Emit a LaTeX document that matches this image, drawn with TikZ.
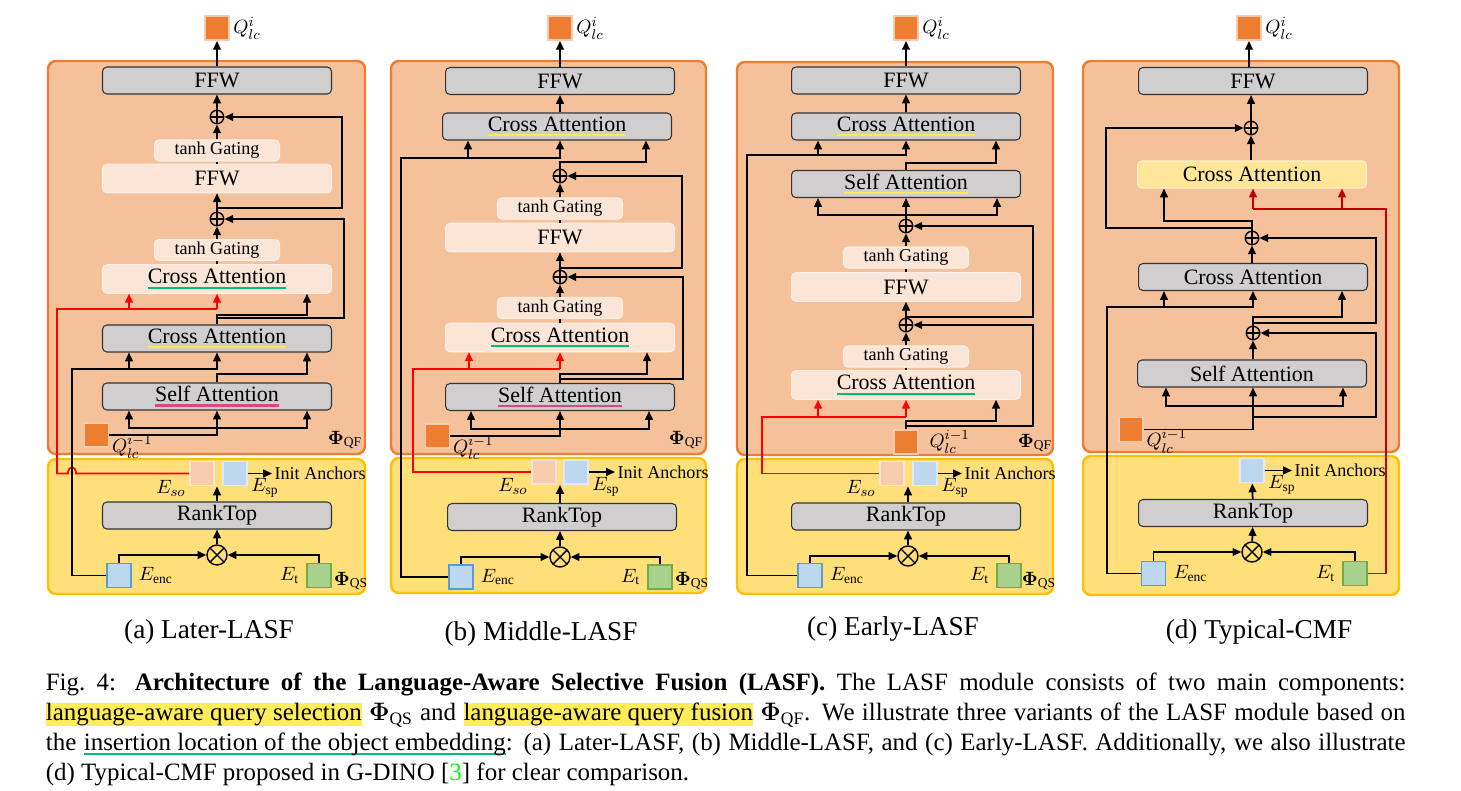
\documentclass[tikz,border=0pt]{standalone}
\usepackage{amsmath, amssymb, bm}
\usepackage{fontspec}
\setmainfont{Liberation Serif}
\usetikzlibrary{arrows.meta}
\definecolor{qforange}{RGB}{237,125,49}
\definecolor{qffill}{RGB}{245,193,155}
\definecolor{qsgold}{RGB}{255,192,0}
\definecolor{qsfill}{RGB}{255,223,122}
\definecolor{boxgray}{RGB}{208,206,206}
\definecolor{peach}{RGB}{251,229,214}
\definecolor{salmon}{RGB}{248,203,173}
\definecolor{skyfill}{RGB}{189,215,238}
\definecolor{skyline}{RGB}{91,155,213}
\definecolor{skylight}{RGB}{222,235,247}
\definecolor{leaffill}{RGB}{169,209,142}
\definecolor{leafline}{RGB}{112,173,71}
\definecolor{cayellow}{RGB}{255,230,153}
\definecolor{calight}{RGB}{255,242,204}
\definecolor{ulyellow}{RGB}{255,232,80}
\definecolor{ulgreen}{RGB}{0,190,120}
\definecolor{ulpink}{RGB}{225,70,120}
\definecolor{hlyellow}{RGB}{255,238,88}
\definecolor{darkred}{RGB}{192,0,0}

\newsavebox\ulbox
\newcommand{\ulined}[2]{\sbox\ulbox{#2}\rlap{\color{#1}\rule[-2.7pt]{\wd\ulbox}{1.2pt}}\usebox\ulbox}
\newcommand{\hlt}[1]{{\setlength{\fboxsep}{0pt}\colorbox{hlyellow}{\rule[-3pt]{0pt}{13pt}#1}}}

\begin{document}
\begin{tikzpicture}[x=0.02cm, y=-0.02cm, line width=1pt,
  every node/.style={align=center},
  >={Triangle[length=5pt,width=4.4pt]},
  qfpanel/.style={draw=qforange, fill=qffill, line width=1.4pt, rounded corners=4.5pt},
  qspanel/.style={draw=qsgold, fill=qsfill, line width=1.4pt, rounded corners=4.5pt},
  graybox/.style={draw=black!80, line width=0.6pt, fill=boxgray, rounded corners=2.5pt,
    minimum width=4.58cm, minimum height=0.54cm, inner sep=0pt, font=\fontsize{12.5}{14}\selectfont},
  lightbox/.style={graybox, draw=peach!60!white, fill=peach, minimum height=0.57cm},
  yellowbox/.style={graybox, draw=calight, fill=cayellow},
  gatebox/.style={fill=peach, draw=peach!60!white, line width=0.6pt, rounded corners=2.5pt,
    minimum width=2.5cm, minimum height=0.42cm, inner sep=0pt, font=\fontsize{10.3}{12}\selectfont},
  sq/.style={minimum size=0.48cm, inner sep=0pt, line width=1.1pt},
  qsq/.style={sq, fill=qforange, draw=salmon},
  sosq/.style={sq, fill=salmon, draw=peach},
  spsq/.style={sq, fill=skyfill, draw=skylight},
  encsq/.style={sq, fill=skyfill, draw=skyline},
  tsq/.style={sq, fill=leaffill, draw=leafline},
  oplus/.style={circle, draw, line width=0.8pt, minimum size=0.27cm, inner sep=0pt,
    path picture={\draw[line width=0.8pt] (path picture bounding box.north) -- (path picture bounding box.south)
      (path picture bounding box.west) -- (path picture bounding box.east);}},
  otimes/.style={circle, draw, line width=0.8pt, minimum size=0.4cm, inner sep=0pt,
    path picture={\draw[line width=0.8pt] (path picture bounding box.north west) -- (path picture bounding box.south east)
      (path picture bounding box.south west) -- (path picture bounding box.north east);}},
  lbl/.style={inner sep=1.5pt, font=\fontsize{11}{12}\selectfont},
  anchorlbl/.style={inner sep=1pt, anchor=west, font=\fontsize{10.3}{12}\selectfont},
  redline/.style={draw=red, line width=1pt}
]
\useasboundingbox (0,0) rectangle (1461,791);

% (a) Later-LASF
\begin{scope}[name prefix=a-]
\draw[qfpanel] (48,61) rectangle (365,454);
\draw[qspanel] (48,459) rectangle (365,594);
\node[qsq] (qout) at (217,28) {};
\node[lbl, anchor=west] at (qout.east) {$Q_{lc}^{i}$};
\node[graybox] (ffw) at (217,80.5) {FFW};
\node[oplus] (add1) at (217,117) {};
\node[gatebox] (gate1) at (217,150.5) {tanh Gating};
\node[lightbox] (ffwl) at (217,178.5) {FFW};
\node[oplus] (add2) at (217,219) {};
\node[gatebox] (gate2) at (217,250) {tanh Gating};
\node[lightbox] (cal) at (217,279) {\ulined{ulgreen}{Cross Attention}};
\node[graybox] (cag) at (217,338.5) {\ulined{ulyellow}{Cross Attention}};
\node[graybox] (sa) at (217,396.5) {\ulined{ulpink}{Self Attention}};
\node[qsq] (qin) at (96.5,435) {};
\node[lbl, anchor=north west, inner sep=1pt, yshift=1.5pt] at (qin.east) {$Q_{lc}^{i-1}$};
\node[lbl] at (345,440) {$\bm{\Phi}_{\mathrm{QF}}$};
\node[graybox] (rank) at (217,515.5) {RankTop};
\node[sosq] (eso) at (202,473.5) {};
\node[spsq] (esp) at (235,473.5) {};
\node[lbl, anchor=east, yshift=-1pt] at (eso.south west) {$E_{so}$};
\node[lbl, anchor=west, yshift=-1pt] at (esp.south east) {$E_{\mathrm{sp}}$};
\node[anchorlbl] (init) at (272,473.5) {Init Anchors};
\node[otimes] (mul) at (217,555) {};
\node[encsq] (eenc) at (119,575.5) {};
\node[tsq] (et) at (319,575.5) {};
\node[lbl, anchor=west] at ([xshift=2pt]eenc.east) {$E_{\mathrm{enc}}$};
\node[lbl, anchor=east] at ([xshift=-2pt]et.west) {$E_{\mathrm{t}}$};
\node[lbl] at (351,581) {$\bm{\Phi}_{\mathrm{QS}}$};
\coordinate (t1) at (217,208);
\coordinate (t2) at (217,318);
\coordinate (r1) at (129,309);
\coordinate (r2) at (217,309);
\coordinate (l1) at (129,369);
\coordinate (b1) at (129,428);
\coordinate (b2) at (307,428);
\draw[->] (ffw) -- (qout);
\draw[->] (add1) -- (ffw);
\draw[->] (gate1) -- (add1);
\draw (gate1) -- (ffwl);
\draw[->] (add2) -- (ffwl);
\draw[->] (gate2) -- (add2);
\draw (gate2) -- (cal);
\draw[->] (t1) -| (342,117) -- (add1);
\draw[->] (cag) |- (307,315) -- (307,0 |- cal.south);
\draw[->] (t2) -| (344,219) -- (add2);
\draw[redline] (eso) -- (76,473.5) .. controls (76,465) and (68,465) .. (68,473.5) -| (57,309) -- (r2);
\draw[redline, ->] (r1) -- (r1 |- cal.south);
\draw[redline, ->] (r2) -- (r2 |- cal.south);
\draw[->] (eenc) -| (72,369) -| (cag);
\draw[->] (l1) -- (l1 |- cag.south);
\draw[->] (sa) |- (307,374) -- (307,0 |- cag.south);
\draw[->] (qin) -| (sa);
\draw[<->] (b1 |- sa.south) -- (b1) -- (b2) -- (b2 |- sa.south);
\draw[->] (rank) -- (rank.north |- esp.south);
\draw[->] (esp) -- (init);
\draw[->] (mul) -- (rank);
\draw[->] (eenc) |- (mul);
\draw[->] (et) |- (mul);
\end{scope}

% (b) Middle-LASF
\begin{scope}[shift={(343,0)}, name prefix=b-]
\draw[qfpanel] (48,61) rectangle (363,454);
\draw[qspanel] (48,458) rectangle (363,593);
\node[qsq] (qout) at (217,28) {};
\node[lbl, anchor=west] at (qout.east) {$Q_{lc}^{i}$};
\node[graybox] (ffw) at (217,81) {FFW};
\node[graybox] (cag) at (214,126.5) {\ulined{ulyellow}{Cross Attention}};
\node[oplus] (add1) at (217,176) {};
\node[gatebox] (gate1) at (217,208.5) {tanh Gating};
\node[lightbox] (ffwl) at (217,237.5) {FFW};
\node[oplus] (add2) at (217,277) {};
\node[gatebox] (gate2) at (217,308) {tanh Gating};
\node[lightbox] (cal) at (217,337.5) {\ulined{ulgreen}{Cross Attention}};
\node[graybox] (sa) at (217,397) {\ulined{ulpink}{Self Attention}};
\node[qsq] (qin) at (94.5,436) {};
\node[lbl, anchor=north west, inner sep=1pt, yshift=1.5pt] at (qin.east) {$Q_{lc}^{i-1}$};
\node[lbl] at (343,440) {$\bm{\Phi}_{\mathrm{QF}}$};
\node[graybox] (rank) at (219,517) {RankTop};
\node[sosq] (eso) at (201,472) {};
\node[spsq] (esp) at (233,472) {};
\node[lbl, anchor=east, yshift=-1pt] at (eso.south west) {$E_{so}$};
\node[lbl, anchor=west, yshift=-1pt] at (esp.south east) {$E_{\mathrm{sp}}$};
\node[anchorlbl] (init) at (272,472) {Init Anchors};
\node[otimes] (mul) at (217,557) {};
\node[encsq] (eenc) at (118,577) {};
\node[tsq] (et) at (317,577) {};
\node[lbl, anchor=west] at ([xshift=2pt]eenc.east) {$E_{\mathrm{enc}}$};
\node[lbl, anchor=east] at ([xshift=-2pt]et.west) {$E_{\mathrm{t}}$};
\node[lbl] at (349,581) {$\bm{\Phi}_{\mathrm{QS}}$};
\coordinate (t1) at (217,268);
\coordinate (t2) at (217,379);
\coordinate (r1) at (126,369);
\coordinate (r2) at (217,369);
\coordinate (l1) at (125,158);
\coordinate (b1) at (128,429);
\coordinate (b2) at (306,429);
\draw[->] (ffw) -- (qout);
\draw[->] (217,0 |- cag.north) -- (ffw);
\draw[->] (eenc) -| (58,158) -| (217,0 |- cag.south);
\draw[->] (l1) -- (l1 |- cag.south);
\draw[->] (add1) |- (303,162) -- (303,0 |- cag.south);
\draw[->] (t1) -| (339,176) -- (add1);
\draw[->] (gate1) -- (add1);
\draw (gate1) -- (ffwl);
\draw[->] (add2) -- (ffwl);
\draw[->] (gate2) -- (add2);
\draw (gate2) -- (cal);
\draw[->] (sa) |- (304,374) -- (304,0 |- cal.south);
\draw[->] (t2) -| (340,277) -- (add2);
\draw[redline] (eso) -| (70,369) -- (r2);
\draw[redline, ->] (r1) -- (r1 |- cal.south);
\draw[redline, ->] (r2) -- (r2 |- cal.south);
\draw[->] (qin) -| (sa);
\draw[<->] (b1 |- sa.south) -- (b1) -- (b2) -- (b2 |- sa.south);
\draw[->] (217,0 |- rank.north) -- (217,0 |- esp.south);
\draw[->] (esp) -- (init);
\draw[->] (mul) -- (217,0 |- rank.south);
\draw[->] (eenc) |- (mul);
\draw[->] (et) |- (mul);
\end{scope}

% (c) Early-LASF
\begin{scope}[shift={(689,0)}, name prefix=c-]
\draw[qfpanel] (48,62) rectangle (364,455);
\draw[qspanel] (48,459) rectangle (364,594);
\node[qsq] (qout) at (217,28) {};
\node[lbl, anchor=west] at (qout.east) {$Q_{lc}^{i}$};
\node[graybox] (ffw) at (217,80.5) {FFW};
\node[graybox] (cag) at (217,126.5) {\ulined{ulyellow}{Cross Attention}};
\node[graybox] (sa) at (217,184) {\ulined{ulyellow}{Self Attention}};
\node[oplus] (add1) at (217,226) {};
\node[gatebox] (gate1) at (217,257.5) {tanh Gating};
\node[lightbox] (ffwl) at (217,287) {FFW};
\node[oplus] (add2) at (217,325) {};
\node[gatebox] (gate2) at (217,356.5) {tanh Gating};
\node[lightbox] (cal) at (217,385) {\ulined{ulgreen}{Cross Attention}};
\node[qsq] (qin) at (217,442) {};
\node[lbl, anchor=west, xshift=4pt] at (qin.east) {$Q_{lc}^{i-1}$};
\node[lbl] at (346,443) {$\bm{\Phi}_{\mathrm{QF}}$};
\node[graybox] (rank) at (217,516.5) {RankTop};
\node[sosq] (eso) at (203,473.5) {};
\node[spsq] (esp) at (236,473.5) {};
\node[lbl, anchor=east, yshift=-1pt] at (eso.south west) {$E_{so}$};
\node[lbl, anchor=west, yshift=-1pt] at (esp.south east) {$E_{\mathrm{sp}}$};
\node[anchorlbl] (init) at (273,473.5) {Init Anchors};
\node[otimes] (mul) at (219,556) {};
\node[encsq] (eenc) at (121,575.5) {};
\node[tsq] (et) at (320,575.5) {};
\node[lbl, anchor=west] at ([xshift=2pt]eenc.east) {$E_{\mathrm{enc}}$};
\node[lbl, anchor=east] at ([xshift=-2pt]et.west) {$E_{\mathrm{t}}$};
\node[lbl] at (350,581) {$\bm{\Phi}_{\mathrm{QS}}$};
\coordinate (t1) at (217,317);
\coordinate (t2) at (217,426);
\coordinate (r1) at (129,417);
\coordinate (r2) at (217,417);
\coordinate (l1) at (129,155);
\coordinate (b1) at (129,215);
\coordinate (b2) at (308,215);
\draw[->] (ffw) -- (qout);
\draw[->] (cag) -- (ffw);
\draw[->] (eenc) -| (58,155) -| (cag);
\draw[->] (l1) -- (l1 |- cag.south);
\draw[->] (sa) |- (307,163) -- (307,0 |- cag.south);
\draw[->] (add1) -- (sa);
\draw[<->] (b1 |- sa.south) -- (b1) -- (b2) -- (b2 |- sa.south);
\draw[->] (t1) -| (344,226) -- (add1);
\draw[->] (gate1) -- (add1);
\draw (gate1) -- (ffwl);
\draw[->] (add2) -- (ffwl);
\draw[->] (gate2) -- (add2);
\draw (gate2) -- (cal);
\draw[->] (t2) -| (344,325) -- (add2);
\draw[->] (qin) |- (307,421) -- (307,0 |- cal.south);
\draw[redline] (eso) -| (73,417) -- (r2);
\draw[redline, ->] (r1) -- (r1 |- cal.south);
\draw[redline, ->] (r2) -- (r2 |- cal.south);
\draw[->] (219,0 |- rank.north) -- (219,0 |- esp.south);
\draw[->] (esp) -- (init);
\draw[->] (mul) -- (219,0 |- rank.south);
\draw[->] (eenc) |- (mul);
\draw[->] (et) |- (mul);
\end{scope}

% (d) Typical-CMF
\begin{scope}[shift={(1035,0)}, name prefix=d-]
\draw[qfpanel] (48,61) rectangle (364,452);
\draw[qspanel] (48,456) rectangle (364,595);
\node[qsq] (qout) at (214,28) {};
\node[lbl, anchor=west] at (qout.east) {$Q_{lc}^{i}$};
\node[graybox] (ffw) at (218,81) {FFW};
\node[oplus] (add1) at (216,128) {};
\node[yellowbox] (caY) at (217,174.5) {Cross Attention};
\node[oplus] (add2) at (217,238) {};
\node[graybox] (cag) at (218,277) {Cross Attention};
\node[oplus] (add3) at (218,333) {};
\node[graybox] (sa) at (217,373.5) {Self Attention};
\node[qsq] (qin) at (96,429.5) {};
\node[lbl, anchor=north west, inner sep=1pt, yshift=1.5pt] at (qin.east) {$Q_{lc}^{i-1}$};
\node[graybox] (rank) at (218,513) {RankTop};
\node[spsq] (esp) at (217,470.5) {};
\node[lbl, anchor=west, yshift=-1pt] at (esp.south east) {$E_{\mathrm{sp}}$};
\node[anchorlbl] (init) at (257,470.5) {Init Anchors};
\node[otimes] (mul) at (217,552) {};
\node[encsq] (eenc) at (118.5,573.5) {};
\node[tsq] (et) at (320,573.5) {};
\node[lbl, anchor=west] at ([xshift=2pt]eenc.east) {$E_{\mathrm{enc}}$};
\node[lbl, anchor=east] at ([xshift=-2pt]et.west) {$E_{\mathrm{t}}$};
\coordinate (t1) at (216,228);
\coordinate (t2) at (217,323);
\coordinate (t3) at (218,417);
\coordinate (r1) at (218,209);
\coordinate (r2) at (307,209);
\coordinate (l1) at (129,307);
\coordinate (b1) at (131,406);
\coordinate (b2) at (308,406);
\draw[->] (214,0 |- ffw.north) -- (qout);
\draw[->] (add1) -- (216,0 |- ffw.south);
\draw[->] (216,0 |- caY.north) -- (add1);
\draw[->] (t1) -| (71,128) -- (add1);
\draw[->] (add2) |- (129,221) -- (129,0 |- caY.south);
\draw[redline, darkred] (et) -| (351,209) -- (r1);
\draw[redline, darkred, ->] (r1) -- (r1 |- caY.south);
\draw[redline, darkred, ->] (r2) -- (r2 |- caY.south);
\draw[->] (217,0 |- cag.north) -- (add2);
\draw[->] (t2) -| (341,238) -- (add2);
\draw[->] (add3) |- (307,317) -- (307,0 |- cag.south);
\draw[->] (eenc) -| (72,307) -| (218,0 |- cag.south);
\draw[->] (l1) -- (l1 |- cag.south);
\draw[->] (218,0 |- sa.north) -- (add3);
\draw[->] (t3) -| (341,333) -- (add3);
\draw[->] (qin) -| (218,0 |- sa.south);
\draw[<->] (b1 |- sa.south) -- (b1) -- (b2) -- (b2 |- sa.south);
\draw[->] (rank) -- (esp);
\draw[->] (esp) -- (init);
\draw[->] (mul) -- (rank);
\draw[->] (eenc) |- (mul);
\draw[->] (et) |- (mul);
\end{scope}

% subcaptions and caption
\node[font=\fontsize{15.5}{18}\selectfont, anchor=base] (capa) at (209,638) {(a) Later-LASF};
\node[font=\fontsize{15.5}{18}\selectfont, anchor=base] (capb) at (541,640) {(b) Middle-LASF};
\node[font=\fontsize{15.5}{18}\selectfont, anchor=base] (capc) at (893,635) {(c) Early-LASF};
\node[font=\fontsize{15.5}{18}\selectfont, anchor=base] (capd) at (1259,638) {(d) Typical-CMF};
\node[anchor=north west, inner sep=0pt, text width=27.2cm, align=justify,
  font=\fontsize{14.2}{17}\selectfont] (caption) at (45,672)
  {Fig.~4: \textbf{Architecture of the Language-Aware Selective Fusion (LASF).} The LASF module consists of two main components:\linebreak
  \hlt{language-aware query selection} $\bm{\Phi}_{\mathrm{QS}}$ and \hlt{language-aware query fusion} $\bm{\Phi}_{\mathrm{QF}}$. We illustrate three variants of the LASF module based on\linebreak
  the \ulined{ulgreen}{insertion location of the object embedding}: (a) Later-LASF, (b) Middle-LASF, and (c) Early-LASF. Additionally, we also illustrate\linebreak
  (d) Typical-CMF proposed in G-DINO [{\color{green}3}] for clear comparison.};
\end{tikzpicture}
\end{document}
